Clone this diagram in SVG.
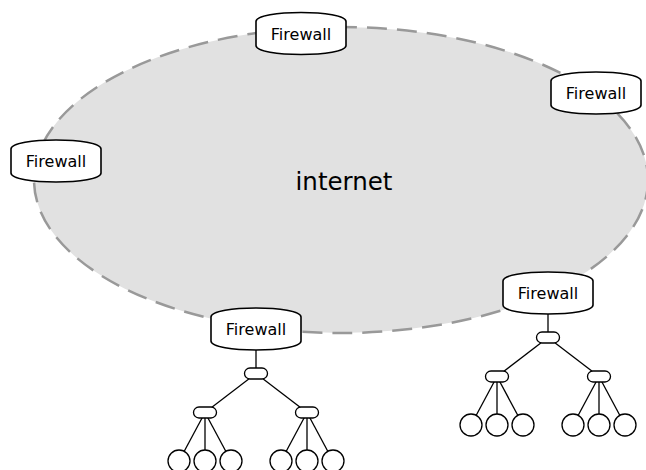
<svg xmlns="http://www.w3.org/2000/svg" width="646" height="470" viewBox="0 0 646 470">
<defs>
<style>
.cloud{fill:#e1e1e1;stroke:#999;stroke-width:2.5;stroke-dasharray:20 10}
.fw{fill:#fff;stroke:#000;stroke-width:1.6}
.lbl{font-family:"DejaVu Sans",sans-serif;font-size:16px;fill:#000;text-anchor:middle}
.big{font-family:"DejaVu Sans",sans-serif;font-size:24.5px;fill:#000;text-anchor:middle}
.pill{fill:#fff;stroke:#000;stroke-width:1.3}
.leaf{fill:#fff;stroke:#000;stroke-width:1.3}
.con line{stroke:#000;stroke-width:1.3}
</style>
<path id="fwshape" d="M-45,-12 C-45,-24 45,-24 45,-12 V12 C45,24 -45,24 -45,12 Z"/>
<rect id="pillshape" x="-11.5" y="-5.5" width="23" height="11" rx="5.5" ry="5.5"/>
</defs>
<rect width="646" height="470" fill="#fff"/>
<g id="internet">
<ellipse class="cloud" cx="341" cy="180" rx="307" ry="153"/>
<text class="big" x="344" y="190">internet</text>
</g>
<g id="connectors" class="con">
<line x1="256" y1="329" x2="256" y2="373.5"/>
<line x1="256" y1="373.5" x2="205" y2="412.5"/>
<line x1="256" y1="373.5" x2="307" y2="412.5"/>
<line x1="205" y1="412.5" x2="179" y2="461"/>
<line x1="205" y1="412.5" x2="205" y2="461"/>
<line x1="205" y1="412.5" x2="231" y2="461"/>
<line x1="307" y1="412.5" x2="281" y2="461"/>
<line x1="307" y1="412.5" x2="307" y2="461"/>
<line x1="307" y1="412.5" x2="333" y2="461"/>
<line x1="548" y1="293" x2="548" y2="337.5"/>
<line x1="548" y1="337.5" x2="497" y2="376.5"/>
<line x1="548" y1="337.5" x2="599" y2="376.5"/>
<line x1="497" y1="376.5" x2="471" y2="425"/>
<line x1="497" y1="376.5" x2="497" y2="425"/>
<line x1="497" y1="376.5" x2="523" y2="425"/>
<line x1="599" y1="376.5" x2="573" y2="425"/>
<line x1="599" y1="376.5" x2="599" y2="425"/>
<line x1="599" y1="376.5" x2="625" y2="425"/>
</g>
<g id="fw-top"><use href="#fwshape" class="fw" x="301" y="33.5"/><text class="lbl" x="301" y="39.5">Firewall</text></g>
<g id="fw-left"><use href="#fwshape" class="fw" x="56" y="161"/><text class="lbl" x="56" y="167">Firewall</text></g>
<g id="fw-right"><use href="#fwshape" class="fw" x="596" y="93"/><text class="lbl" x="596" y="99">Firewall</text></g>
<g id="fw-bottom-right"><use href="#fwshape" class="fw" x="548" y="293"/><text class="lbl" x="548" y="299">Firewall</text></g>
<g id="fw-bottom-left"><use href="#fwshape" class="fw" x="256" y="329"/><text class="lbl" x="256" y="335">Firewall</text></g>
<g id="sw-l"><use href="#pillshape" class="pill" x="256" y="373.5"/></g>
<g id="sw-l1"><use href="#pillshape" class="pill" x="205" y="412.5"/></g>
<g id="sw-l2"><use href="#pillshape" class="pill" x="307" y="412.5"/></g>
<g id="sw-r"><use href="#pillshape" class="pill" x="548" y="337.5"/></g>
<g id="sw-r1"><use href="#pillshape" class="pill" x="497" y="376.5"/></g>
<g id="sw-r2"><use href="#pillshape" class="pill" x="599" y="376.5"/></g>
<g id="h-l1"><circle class="leaf" cx="179" cy="461" r="11"/></g>
<g id="h-l2"><circle class="leaf" cx="205" cy="461" r="11"/></g>
<g id="h-l3"><circle class="leaf" cx="231" cy="461" r="11"/></g>
<g id="h-l4"><circle class="leaf" cx="281" cy="461" r="11"/></g>
<g id="h-l5"><circle class="leaf" cx="307" cy="461" r="11"/></g>
<g id="h-l6"><circle class="leaf" cx="333" cy="461" r="11"/></g>
<g id="h-r1"><circle class="leaf" cx="471" cy="425" r="11"/></g>
<g id="h-r2"><circle class="leaf" cx="497" cy="425" r="11"/></g>
<g id="h-r3"><circle class="leaf" cx="523" cy="425" r="11"/></g>
<g id="h-r4"><circle class="leaf" cx="573" cy="425" r="11"/></g>
<g id="h-r5"><circle class="leaf" cx="599" cy="425" r="11"/></g>
<g id="h-r6"><circle class="leaf" cx="625" cy="425" r="11"/></g>
</svg>
